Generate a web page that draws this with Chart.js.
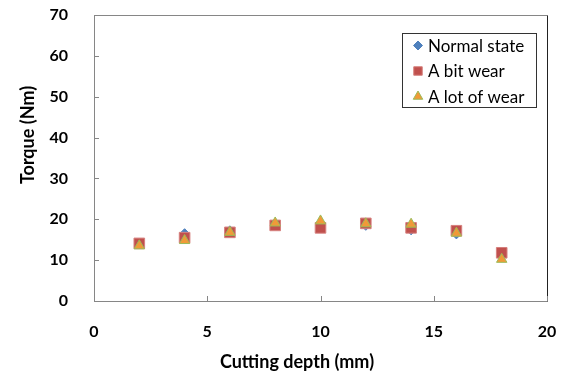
<!DOCTYPE html>
<html>
<head>
<meta charset="UTF-8" />
<title>Torque vs cutting depth</title>
<script src="https://cdn.jsdelivr.net/npm/chart.js"></script>
<style>
  body { margin: 0; background: #fff; }
  #wrap { width: 568px; height: 375px; }
</style>
</head>
<body>
<div id="wrap"><canvas id="chart" width="568" height="375"></canvas></div>
<script>
// cutting depth (mm)
const depths = [2, 4, 6, 8, 10, 12, 14, 16, 18];
// torque (Nm) per tool condition
const normalState = [14.0, 16.6, 17.3, 18.7, 18.5, 18.4, 17.3, 16.3, 11.0];
const bitWear = [14.1, 15.5, 16.8, 18.5, 17.9, 19.0, 17.9, 17.2, 11.8];
const lotWear = [13.5, 14.8, 16.8, 19.1, 19.6, 18.9, 18.8, 16.6, 10.2];
const seriesNames = ["Normal state", "A bit wear", "A lot of wear"];
const xTicks = [0, 5, 10, 15, 20];
const yTicks = [0, 10, 20, 30, 40, 50, 60, 70];

const FONT = "Lato, 'Open Sans', sans-serif";

function pts(ys) {
  return depths.map((d, i) => ({ x: d, y: ys[i] }));
}

// frame, inner tick marks, axis titles and boxed legend
const decor = {
  id: "decor",
  afterDraw(chart) {
    const c = chart.ctx;
    const a = chart.chartArea;
    const xs = chart.scales.x, ys = chart.scales.y;
    c.save();
    // frame
    c.strokeStyle = "#868686";
    c.lineWidth = 1;
    c.beginPath();
    c.moveTo(a.left + 0.5, a.top + 0.5);
    c.lineTo(a.left + 0.5, a.bottom + 0.5);
    c.lineTo(a.right + 0.5, a.bottom + 0.5);
    c.moveTo(a.left + 0.5, a.top + 0.5);
    c.lineTo(a.right + 0.5, a.top + 0.5);
    c.stroke();
    c.strokeStyle = "#222";
    c.beginPath();
    c.moveTo(a.right + 0.5, a.top + 0.5);
    c.lineTo(a.right + 0.5, a.bottom + 0.5);
    c.stroke();
    // inner ticks
    c.strokeStyle = "#868686";
    c.beginPath();
    yTicks.forEach(v => {
      const py = Math.round(ys.getPixelForValue(v)) + 0.5;
      c.moveTo(a.left, py); c.lineTo(a.left + 5, py);
    });
    xTicks.forEach(v => {
      const px = Math.round(xs.getPixelForValue(v)) + 0.5;
      c.moveTo(px, a.bottom); c.lineTo(px, a.bottom - 5);
    });
    c.stroke();
    // axis titles
    c.fillStyle = "#000";
    c.font = "bold 18px " + FONT;
    c.textAlign = "center";
    c.textBaseline = "middle";
    c.fillText("Cutting depth (mm)", 297, 362);
    c.translate(28, 135);
    c.rotate(-Math.PI / 2);
    c.fillText("Torque (Nm)", 0, 0);
    c.restore();

    // legend box
    c.save();
    const lx = 402, ly = 33, lw = 134, lh = 74;
    c.fillStyle = "#fff";
    c.fillRect(lx, ly, lw, lh);
    c.strokeStyle = "#333";
    c.lineWidth = 1;
    c.strokeRect(lx + 0.5, ly + 0.5, lw, lh);
    c.font = "17px " + FONT;
    c.textAlign = "left";
    c.textBaseline = "middle";
    chart.data.datasets.forEach((ds, i) => {
      const cy = 45.5 + i * 25.5;
      c.fillStyle = ds.backgroundColor;
      c.strokeStyle = ds.borderColor;
      c.lineWidth = 1;
      Chart.helpers.drawPoint(c, {
        pointStyle: ds.pointStyle,
        radius: ds.legendRadius,
        borderWidth: 1
      }, 418, cy);
      c.fillStyle = "#000";
      c.fillText(ds.label, 428, cy + 1);
    });
    c.restore();
  }
};

new Chart(document.getElementById("chart"), {
  type: "scatter",
  data: {
    datasets: [
      {
        label: seriesNames[0], data: pts(normalState), order: 3,
        pointStyle: "rectRot", pointRadius: 4.5, legendRadius: 4.5,
        backgroundColor: "#4F81BD", borderColor: "#4F81BD", borderWidth: 1
      },
      {
        label: seriesNames[1], data: pts(bitWear), order: 2,
        pointStyle: "rect", pointRadius: 7.5, legendRadius: 6,
        backgroundColor: "#C0504D", borderColor: "#D6807E", borderWidth: 1
      },
      {
        label: seriesNames[2], data: pts(lotWear), order: 1,
        pointStyle: "triangle", pointRadius: 6, legendRadius: 5.5,
        backgroundColor: "#F09A38", borderColor: "#9BBB59", borderWidth: 1
      }
    ]
  },
  options: {
    responsive: false,
    animation: false,
    events: [],
    layout: { padding: { top: 15, right: 21, left: 0, bottom: 0 } },
    plugins: { legend: { display: false }, tooltip: { enabled: false } },
    scales: {
      x: {
        type: "linear", min: 0, max: 20,
        afterBuildTicks: s => { s.ticks = xTicks.map(v => ({ value: v })); },
        afterFit: s => { s.height = 74; s.paddingLeft = 0; s.paddingRight = 0; },
        grid: { display: false },
        border: { display: false },
        ticks: { color: "#000", font: { family: FONT, size: 16, weight: "bold" }, padding: 13, maxRotation: 0 }
      },
      y: {
        min: 0, max: 70,
        afterBuildTicks: s => { s.ticks = yTicks.map(v => ({ value: v })); },
        afterFit: s => { s.width = 94; s.paddingTop = 0; s.paddingBottom = 0; },
        grid: { display: false },
        border: { display: false },
        ticks: { color: "#000", font: { family: FONT, size: 16, weight: "bold" }, padding: 18 }
      }
    }
  },
  plugins: [decor]
});
</script>
</body>
</html>
